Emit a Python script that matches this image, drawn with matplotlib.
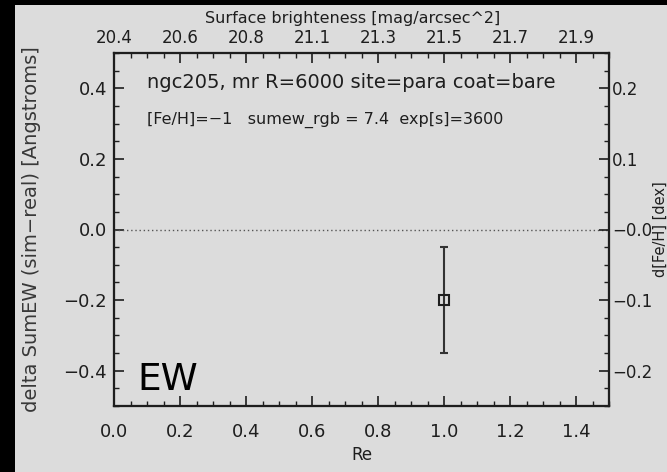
import numpy as np
import matplotlib
matplotlib.use("Agg")
import matplotlib.pyplot as plt
from matplotlib.patches import Rectangle

# data
re = [1.0]
dsumew = [-0.2]
dsumew_err = [0.15]

re_ticks = [0.0, 0.2, 0.4, 0.6, 0.8, 1.0, 1.2, 1.4]
sb_labels = ['20.4', '20.6', '20.8', '21.1', '21.3', '21.5', '21.7', '21.9']
ew_ticks = [0.4, 0.2, 0.0, -0.2, -0.4]
ew_labels = ['0.4', '0.2', '0.0', '\u22120.2', '\u22120.4']
feh_ticks = [0.2, 0.1, 0.0, -0.1, -0.2]
feh_labels = ['0.2', '0.1', '\u22120.0', '\u22120.1', '\u22120.2']

info1 = 'ngc205, mr R=6000 site=para coat=bare'
info2 = '[Fe/H]=\u22121   sumew_rgb = 7.4  exp[s]=3600'

W, H = 667, 472
bg = '#dcdcdc'
ink = '#1e1e1e'

plt.rcParams['font.family'] = 'DejaVu Sans'
fig = plt.figure(figsize=(W / 100, H / 100), dpi=100, facecolor='black')
# grey page with black strip on left/top
fig.patches.append(Rectangle((15 / W, 0), 1, 1 - 5 / H, transform=fig.transFigure,
                             facecolor=bg, edgecolor='none', zorder=-10))

ax = fig.add_axes([114 / W, 1 - 406 / H, (609 - 114) / W, (406 - 53) / H])
ax.set_facecolor(bg)
ax.set_xlim(0, 1.5)
ax.set_ylim(-0.5, 0.5)

ax.axhline(0, color='#555555', lw=1.0, ls=(0, (1, 2)))
ax.errorbar(re, dsumew, yerr=dsumew_err, fmt='s', ms=7, mfc='none', mec=ink, mew=1.5,
            ecolor='#333333', elinewidth=1.5, capsize=3, capthick=1.5)

ax.set_xticks(re_ticks)
ax.set_xticklabels([f'{v:.1f}' for v in re_ticks])
ax.set_xticks(np.arange(0, 1.51, 0.05), minor=True)
ax.set_yticks(ew_ticks)
ax.set_yticklabels(ew_labels)
ax.set_yticks(np.arange(-0.5, 0.51, 0.05), minor=True)
ax.tick_params(which='both', direction='in', colors=ink, labelsize=13, top=False, right=False)
ax.tick_params(which='major', length=7, width=1.2)
ax.tick_params(which='minor', length=3.5, width=1.0)
ax.tick_params(axis='x', which='major', pad=12)
ax.tick_params(axis='y', which='major', pad=5)
ax.set_xlabel('Re', fontsize=12, color=ink, labelpad=4)

axr = ax.twinx()
axr.set_ylim(-0.25, 0.25)
axr.set_yticks(feh_ticks)
axr.set_yticklabels(feh_labels)
axr.set_yticks(np.arange(-0.25, 0.251, 0.025), minor=True)
axr.tick_params(which='both', direction='in', colors=ink, labelsize=12)
axr.tick_params(which='major', length=7, width=1.2, pad=2)
axr.tick_params(which='minor', length=3.5, width=1.0)

axt = ax.twiny()
axt.set_xlim(0, 1.5)
axt.set_xticks(re_ticks)
axt.set_xticklabels(sb_labels)
axt.set_xticks(np.arange(0, 1.51, 0.05), minor=True)
axt.tick_params(which='both', direction='in', colors=ink, labelsize=12)
axt.tick_params(which='major', length=7, width=1.2, pad=4)
axt.tick_params(which='minor', length=3.5, width=1.0)

for a in (ax, axr, axt):
    for s in a.spines.values():
        s.set_linewidth(1.5)
        s.set_color(ink)

ax.text(147 / W, 1 - 83 / H, info1, transform=fig.transFigure, fontsize=14, color=ink,
        va='center')
ax.text(147 / W, 1 - 120 / H, info2, transform=fig.transFigure, fontsize=11.5, color=ink,
        va='center')
ax.text(137 / W, 1 - 390 / H, 'EW', transform=fig.transFigure, fontsize=27, color='black',
        va='baseline')

fig.text(353 / W, 1 - 19 / H, 'Surface brighteness [mag/arcsec^2]', fontsize=11.5,
         color=ink, ha='center', va='center')
fig.text(32 / W, 1 - 229.5 / H, 'delta SumEW (sim\u2212real) [Angstroms]', fontsize=14,
         color='#383838', rotation=90, ha='center', va='center')
fig.text(660 / W, 1 - 229.5 / H, 'd[Fe/H] [dex]', fontsize=10.5, color=ink,
         rotation=90, ha='center', va='center')

fig.savefig('out.png', dpi=100, facecolor=fig.get_facecolor())
